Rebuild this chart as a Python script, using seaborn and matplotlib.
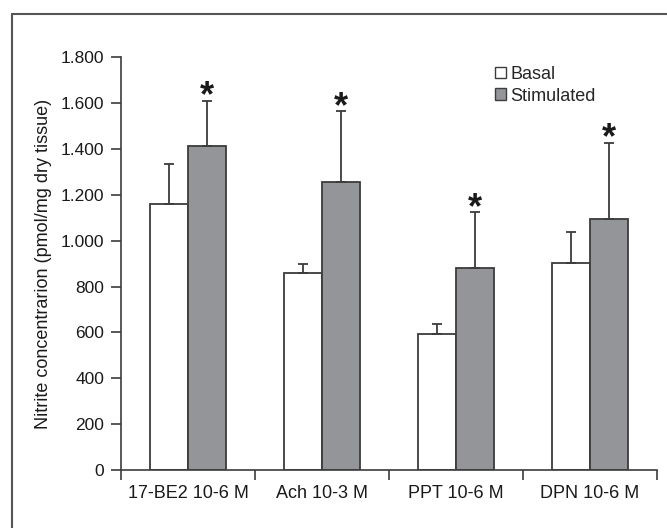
import matplotlib
matplotlib.use("Agg")
import matplotlib.pyplot as plt
import seaborn as sns
import pandas as pd
from matplotlib.patches import Patch
from matplotlib.lines import Line2D
from matplotlib.ticker import FuncFormatter

categories = ["17-BE2 10-6 M", "Ach 10-3 M", "PPT 10-6 M", "DPN 10-6 M"]
conditions = ["Basal", "Stimulated"]
basal = [1160, 860, 592, 903]
basal_err = [176, 39, 44, 133]
stimulated = [1415, 1255, 883, 1095]
stimulated_err = [196, 309, 241, 331]
significant = [True, True, True, True]
yticks = [0, 200, 400, 600, 800, 1000, 1200, 1400, 1600, 1800]

sns.set_style("ticks")
plt.rcParams["font.family"] = ["Liberation Sans", "DejaVu Sans"]

df = pd.DataFrame({
    "cat": categories * 2,
    "val": basal + stimulated,
    "cond": [conditions[0]] * 4 + [conditions[1]] * 4,
})

fig = plt.figure(figsize=(6.67, 5.28), dpi=100)
ax = fig.add_axes([121 / 667, 1 - 470 / 528, (657 - 121) / 667, (470 - 57.3) / 528])

edge = "#3c3c3c"
fillc = "#939598"
txt = "#1a1a1a"
fs = 13

sns.barplot(data=df, x="cat", y="val", hue="cond", order=categories,
            hue_order=conditions, palette=["white", fillc], edgecolor=edge,
            linewidth=1.3, width=0.57, gap=0, errorbar=None, ax=ax,
            legend=False, saturation=1)

# error bars (upper only)
patches = [p for p in ax.patches]
series_vals = [basal, stimulated]
series_errs = [basal_err, stimulated_err]
for si in range(2):
    bars = patches[si * 4:(si + 1) * 4]
    xs = [b.get_x() + b.get_width() / 2 for b in bars]
    ax.errorbar(xs, series_vals[si], yerr=[[0] * 4, series_errs[si]], fmt="none",
                ecolor=edge, elinewidth=1.3, capsize=3.5, capthick=1.3, zorder=1)
    if si == 1:
        for x, v, e, s in zip(xs, series_vals[si], series_errs[si], significant):
            if s:
                ax.annotate("*", (x, v + e), xytext=(0, -4), textcoords="offset points",
                            ha="center", va="baseline", fontsize=26, fontweight="bold",
                            color=txt, annotation_clip=False)

ax.set_xlim(-0.5, 3.5)
ax.set_ylim(0, 1800)
ax.set_yticks(yticks)
ax.yaxis.set_major_formatter(FuncFormatter(lambda v, p: f"{int(v):,}".replace(",", ".")))
ax.set_xticks([-0.5, 0.5, 1.5, 2.5, 3.5], minor=False)
ax.set_xticklabels([])
ax.set_xticks(range(4), minor=True)
ax.set_xticklabels(categories, minor=True, fontsize=fs, color=txt)
ax.tick_params(axis="x", which="minor", length=0, pad=11)
ax.tick_params(axis="x", which="major", length=7, width=1.2, color=edge, direction="out")
ax.tick_params(axis="y", length=7, width=1.2, color=edge, labelsize=12.5,
               labelcolor=txt, pad=5, direction="out")
for s in ["top", "right"]:
    ax.spines[s].set_visible(False)
for s in ["left", "bottom"]:
    ax.spines[s].set_color(edge)
    ax.spines[s].set_linewidth(1.2)
ax.set_xlabel("")
ax.set_ylabel("Nitrite concentrarion (pmol/mg dry tissue)", fontsize=fs,
              color=txt, labelpad=6)

handles = [Patch(facecolor="white", edgecolor=edge, linewidth=1.0),
           Patch(facecolor=fillc, edgecolor=edge, linewidth=1.0)]
fig.legend(handles, conditions, loc="upper left", bbox_to_anchor=(495 / 667, 1 - 66 / 528),
           frameon=False, fontsize=fs, handlelength=0.6, handleheight=0.6,
           handletextpad=0.25, labelspacing=0.25, borderpad=0, borderaxespad=0)

# figure frame (left and top edges visible)
fig.add_artist(Line2D([12 / 667, 12 / 667], [0, 1 - 14 / 528], transform=fig.transFigure,
                      color="#555555", linewidth=1.5))
fig.add_artist(Line2D([12 / 667, 1], [1 - 14 / 528, 1 - 14 / 528], transform=fig.transFigure,
                      color="#555555", linewidth=1.5))

fig.savefig("out.png", dpi=100)
